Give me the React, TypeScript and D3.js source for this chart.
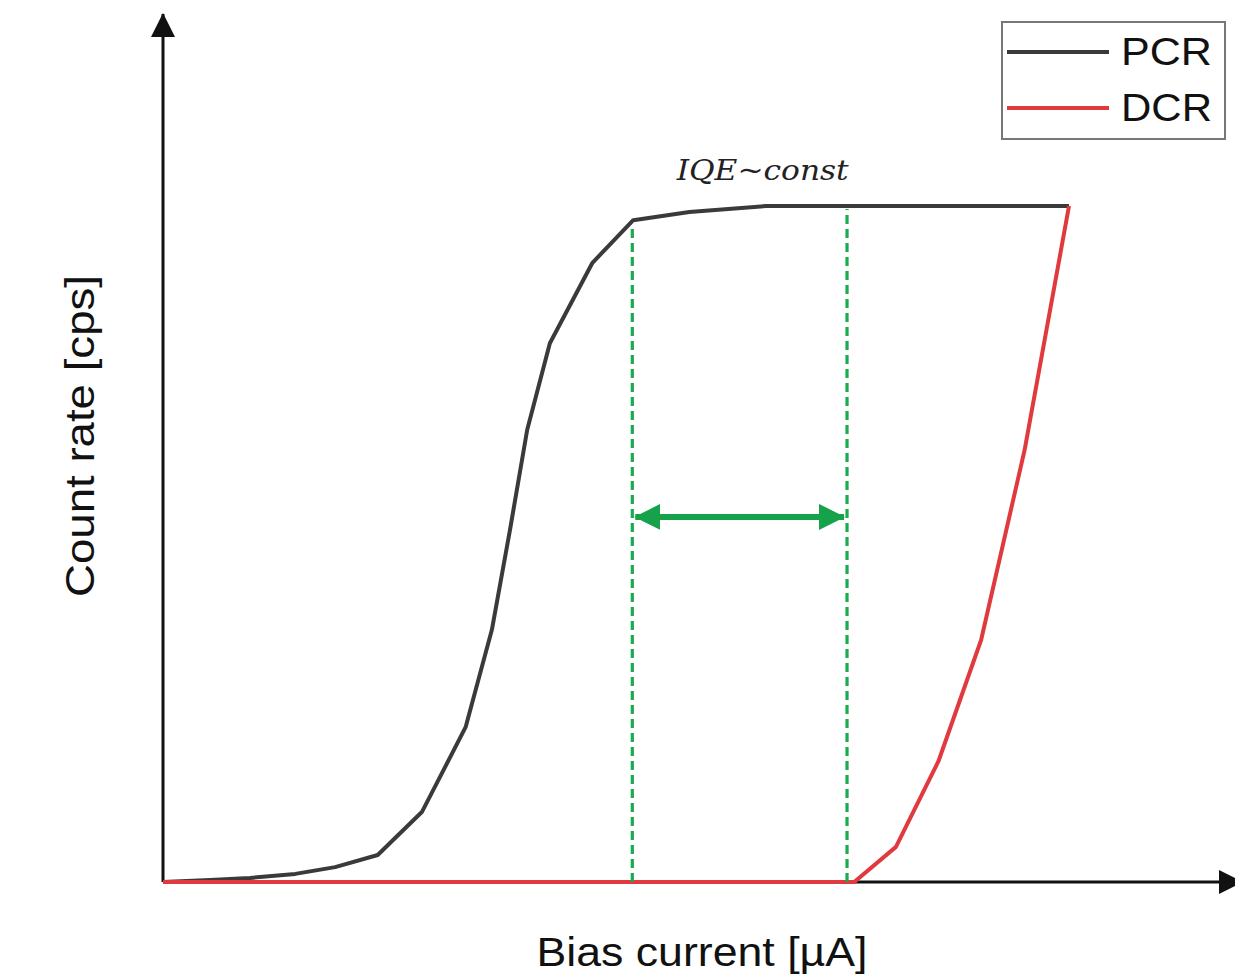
import { useEffect, useRef } from 'react';
import * as d3 from 'd3';

// normalised bias current (0..100) and count rate (0..100)
const pcrX = [0, 5.2, 9.6, 14.6, 19.0, 23.7, 28.6, 33.4, 36.3, 38.3, 40.2, 42.7, 47.4, 51.9, 58.1, 66.6, 100];
const pcrY = [0, 0.3, 0.6, 1.2, 2.2, 4.0, 10.4, 22.9, 37.3, 52.1, 66.9, 79.7, 91.6, 97.9, 99.1, 100, 100];

const dcrX = [0, 76.3, 80.9, 85.6, 90.3, 95.1, 100];
const dcrY = [0, 0, 5.2, 17.9, 35.8, 63.9, 100];

const seriesNames = ['PCR', 'DCR'];
const seriesColors = ['#3a3a3a', '#e0393e'];

// constant-IQE window and its arrow level
const windowX = [51.8, 75.5];
const arrowY = 54;

const App = () => {
  const svgRef = useRef<SVGSVGElement>(null);

  useEffect(() => {
    const W = 1235;
    const H = 980;
    const svg = d3.select(svgRef.current).attr('width', W).attr('height', H);
    svg.selectAll('*').remove();

    const x = d3.scaleLinear().domain([0, 100]).range([163, 1069]);
    const y = d3.scaleLinear().domain([0, 100]).range([882, 206]);

    const defs = svg.append('defs');
    const marker = (id: string, color: string, w: number, h: number, orient: string) => {
      defs
        .append('marker')
        .attr('id', id)
        .attr('viewBox', `0 0 ${w} ${h}`)
        .attr('refX', w - 1)
        .attr('refY', h / 2)
        .attr('markerWidth', w)
        .attr('markerHeight', h)
        .attr('markerUnits', 'userSpaceOnUse')
        .attr('orient', orient)
        .append('path')
        .attr('d', `M0,0L${w},${h / 2}L0,${h}Z`)
        .attr('fill', color);
    };
    marker('axisHead', '#111', 24, 24, 'auto');
    marker('greenHead', '#15a24b', 26, 26, 'auto-start-reverse');

    // axes with arrows
    svg
      .append('line')
      .attr('x1', x(0))
      .attr('y1', y(0))
      .attr('x2', x(0))
      .attr('y2', 14)
      .attr('stroke', '#111')
      .attr('stroke-width', 3)
      .attr('marker-end', 'url(#axisHead)');
    svg
      .append('line')
      .attr('x1', x(0))
      .attr('y1', y(0))
      .attr('x2', 1242)
      .attr('y2', y(0))
      .attr('stroke', '#111')
      .attr('stroke-width', 3)
      .attr('marker-end', 'url(#axisHead)');

    const path = d3.line();
    const series = [
      pcrX.map((v, i) => [x(v), y(pcrY[i])] as [number, number]),
      dcrX.map((v, i) => [x(v), y(dcrY[i])] as [number, number]),
    ];
    series.forEach((pts, i) => {
      svg
        .append('path')
        .attr('d', path(pts))
        .attr('fill', 'none')
        .attr('stroke', seriesColors[i])
        .attr('stroke-width', 4)
        .attr('stroke-linejoin', 'round');
    });

    // dashed window bounds, up to the PCR curve
    const pcrAt = (v: number) => {
      const i = d3.bisectRight(pcrX, v) - 1;
      if (i >= pcrX.length - 1) return pcrY[pcrY.length - 1];
      const t = (v - pcrX[i]) / (pcrX[i + 1] - pcrX[i]);
      return pcrY[i] + t * (pcrY[i + 1] - pcrY[i]);
    };
    windowX.forEach(v => {
      svg
        .append('line')
        .attr('x1', x(v))
        .attr('x2', x(v))
        .attr('y1', y(0))
        .attr('y2', y(pcrAt(v)) + 3)
        .attr('stroke', '#1aaa50')
        .attr('stroke-width', 3.2)
        .attr('stroke-dasharray', '9,5');
    });

    svg
      .append('line')
      .attr('x1', x(windowX[0]) + 3)
      .attr('x2', x(windowX[1]) - 3)
      .attr('y1', y(arrowY))
      .attr('y2', y(arrowY))
      .attr('stroke', '#15a24b')
      .attr('stroke-width', 6)
      .attr('marker-start', 'url(#greenHead)')
      .attr('marker-end', 'url(#greenHead)');

    svg
      .append('text')
      .attr('x', (x(windowX[0]) + x(windowX[1])) / 2 + 23)
      .attr('y', 180)
      .attr('text-anchor', 'middle')
      .attr('font-family', '"DejaVu Serif", "Liberation Serif", serif')
      .attr('font-style', 'italic')
      .attr('font-size', 28)
      .attr('fill', '#222')
      .attr('textLength', 172)
      .attr('lengthAdjust', 'spacingAndGlyphs')
      .text('IQE~const');

    // axis titles
    svg
      .append('text')
      .attr('x', 702)
      .attr('y', 966)
      .attr('text-anchor', 'middle')
      .attr('font-family', '"Liberation Sans", Arial, sans-serif')
      .attr('font-size', 41)
      .attr('fill', '#111')
      .attr('textLength', 331)
      .attr('lengthAdjust', 'spacingAndGlyphs')
      .text('Bias current [µA]');

    svg
      .append('text')
      .attr('transform', 'translate(94,436) rotate(-90)')
      .attr('text-anchor', 'middle')
      .attr('font-family', '"Liberation Sans", Arial, sans-serif')
      .attr('font-size', 41)
      .attr('fill', '#111')
      .attr('textLength', 322)
      .attr('lengthAdjust', 'spacingAndGlyphs')
      .text('Count rate [cps]');

    // legend
    const legend = svg.append('g');
    legend
      .append('rect')
      .attr('x', 1002)
      .attr('y', 22)
      .attr('width', 223)
      .attr('height', 117)
      .attr('fill', '#fff')
      .attr('stroke', '#777')
      .attr('stroke-width', 2);
    seriesNames.forEach((name, i) => {
      const ly = 52 + i * 56;
      legend
        .append('line')
        .attr('x1', 1007)
        .attr('x2', 1109)
        .attr('y1', ly)
        .attr('y2', ly)
        .attr('stroke', seriesColors[i])
        .attr('stroke-width', 4);
      legend
        .append('text')
        .attr('x', 1121)
        .attr('y', ly + 13)
        .attr('font-family', '"Liberation Sans", Arial, sans-serif')
        .attr('font-size', 38)
        .attr('fill', '#111')
        .attr('textLength', 91)
        .attr('lengthAdjust', 'spacingAndGlyphs')
        .text(name);
    });
  }, []);

  return <svg ref={svgRef} style={{ position: 'absolute', left: 0, top: 0, background: '#fff' }}></svg>;
};

export default App;
